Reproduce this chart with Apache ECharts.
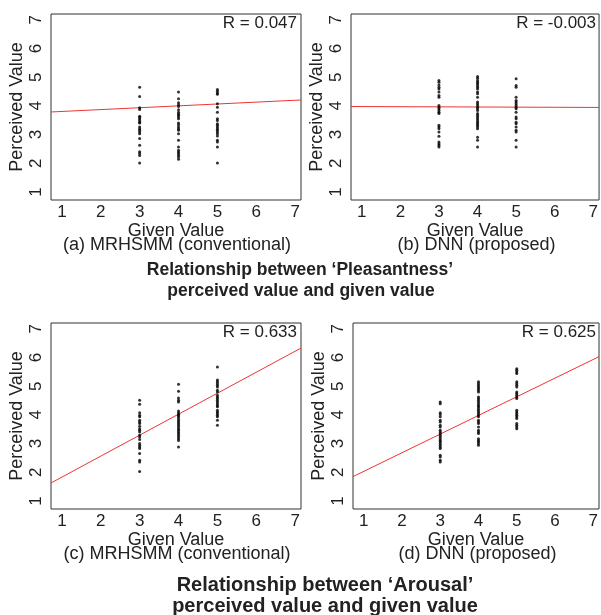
<!DOCTYPE html>
<html>
<head>
<meta charset="utf-8">
<script src="https://cdn.jsdelivr.net/npm/echarts@6/dist/echarts.min.js"></script>
<style>
  html, body { margin: 0; padding: 0; background: #fff; }
  #main { width: 601px; height: 615px; }
</style>
</head>
<body>
<div id="main"></div>
<script>
// perceived values, one list per given value
// (a) Pleasantness, MRHSMM
var aGiven3 = [4.65, 4.33, 3.93, 3.87, 3.64, 3.6, 3.54, 3.49, 3.43, 3.4, 3.26, 3.2, 3.15, 3.09, 3.03, 2.86, 2.63, 2.4, 2.34, 2.27, 2.01];
var aGiven4 = [4.48, 4.25, 4.11, 4.04, 3.98, 3.86, 3.78, 3.72, 3.67, 3.61, 3.55, 3.4, 3.34, 3.26, 3.2, 3.15, 3.03, 2.8, 2.57, 2.45, 2.39, 2.34, 2.28, 2.22, 2.14];
var aGiven5 = [4.57, 4.51, 4.45, 4.4, 4.07, 3.95, 3.78, 3.55, 3.49, 3.38, 3.32, 3.26, 3.2, 3.15, 3.09, 3.03, 2.95, 2.8, 2.74, 2.57, 2.01];
// (b) Pleasantness, DNN
var bGiven3 = [4.88, 4.82, 4.73, 4.65, 4.59, 4.48, 4.36, 4.3, 4.01, 3.95, 3.9, 3.84, 3.78, 3.73, 3.32, 3.26, 3.2, 3.09, 2.94, 2.74, 2.68, 2.63, 2.57];
var bGiven4 = [5.02, 4.96, 4.88, 4.82, 4.77, 4.71, 4.65, 4.59, 4.48, 4.42, 4.3, 4.13, 4.07, 4.01, 3.95, 3.9, 3.84, 3.73, 3.67, 3.61, 3.55, 3.49, 3.43, 3.38, 3.32, 3.26, 3.2, 2.91, 2.8, 2.57];
var bGiven5 = [4.94, 4.71, 4.65, 4.3, 4.19, 4.13, 4.07, 4.01, 3.95, 3.9, 3.78, 3.61, 3.55, 3.43, 3.38, 3.26, 3.15, 3.09, 2.8, 2.57];
// (c) Arousal, MRHSMM
var cGiven3 = [4.51, 4.37, 4.07, 3.99, 3.93, 3.81, 3.75, 3.7, 3.6, 3.52, 3.46, 3.4, 3.29, 3.23, 3.14, 3.0, 2.94, 2.88, 2.83, 2.65, 2.42, 2.36, 2.03];
var cGiven4 = [5.07, 4.82, 4.59, 4.51, 4.45, 4.13, 4.07, 4.02, 3.98, 3.93, 3.87, 3.81, 3.75, 3.7, 3.64, 3.58, 3.52, 3.46, 3.4, 3.35, 3.29, 3.23, 3.17, 3.11, 2.88];
var cGiven5 = [5.67, 5.21, 5.15, 5.09, 5.03, 4.97, 4.86, 4.8, 4.68, 4.62, 4.57, 4.51, 4.45, 4.39, 4.33, 4.28, 4.16, 4.1, 4.05, 3.99, 3.93, 3.81, 3.64];
// (d) Arousal, DNN
var dGiven3 = [4.45, 4.39, 4.07, 4.01, 3.93, 3.81, 3.75, 3.64, 3.58, 3.46, 3.4, 3.35, 3.29, 3.23, 3.17, 3.11, 3.06, 3.0, 2.94, 2.88, 2.83, 2.59, 2.53, 2.42, 2.36];
var dGiven4 = [5.15, 5.09, 5.03, 4.97, 4.92, 4.86, 4.8, 4.62, 4.57, 4.51, 4.45, 4.39, 4.33, 4.28, 4.22, 4.16, 4.1, 4.05, 3.99, 3.93, 3.81, 3.75, 3.7, 3.58, 3.46, 3.4, 3.35, 3.17, 3.11, 3.06, 3.0, 2.94];
var dGiven5 = [5.61, 5.55, 5.49, 5.44, 5.15, 5.09, 5.03, 4.97, 4.8, 4.74, 4.68, 4.62, 4.57, 4.16, 4.1, 4.05, 3.99, 3.93, 3.87, 3.7, 3.64, 3.58, 3.52];

// fitted regression line of each panel: intercept and slope
var fitIntercept = [3.74, 3.98, 1.10, 1.38];
var fitSlope = [0.065, -0.005, 0.731, 0.65];
var rValues = ['R = 0.047', 'R = -0.003', 'R = 0.633', 'R = 0.625'];
var captions = ['(a) MRHSMM (conventional)', '(b) DNN (proposed)', '(c) MRHSMM (conventional)', '(d) DNN (proposed)'];
var axisTicks = [1, 2, 3, 4, 5, 6, 7];

var columns = [
  [aGiven3, aGiven4, aGiven5],
  [bGiven3, bGiven4, bGiven5],
  [cGiven3, cGiven4, cGiven5],
  [dGiven3, dGiven4, dGiven5]
];
var givenX = [3, 4, 5];

var xMin = 0.72, xMax = 7.15, yMin = 0.72, yMax = 7.2;
var boxes = [
  {left: 51, top: 14, width: 250},
  {left: 351, top: 14, width: 249},
  {left: 51, top: 323, width: 250},
  {left: 353, top: 323, width: 247}
];
var boxH = 186;
var txt = '#222';
var fam = '"Liberation Sans", Arial, sans-serif';

var myChart = echarts.init(document.getElementById('main'));

var grids = [], xAxes = [], yAxes = [], series = [], graphics = [];
boxes.forEach(function (b, i) {
  grids.push({left: b.left, top: b.top, width: b.width, height: boxH,
    show: true, borderColor: '#333', borderWidth: 1, backgroundColor: 'transparent'});
  xAxes.push({
    type: 'value', gridIndex: i, min: xMin, max: xMax,
    name: 'Given Value', nameLocation: 'middle', nameGap: 16,
    nameTextStyle: {fontSize: 18, color: txt, fontFamily: fam},
    axisLine: {show: false}, axisTick: {show: false}, splitLine: {show: false},
    axisLabel: {
      color: txt, fontSize: 17, fontFamily: fam, margin: 4,
      customValues: axisTicks
    }
  });
  yAxes.push({
    type: 'value', gridIndex: i, min: yMin, max: yMax,
    name: 'Perceived Value', nameLocation: 'middle', nameGap: 25,
    nameTextStyle: {fontSize: 18, color: txt, fontFamily: fam},
    axisLine: {show: false}, axisTick: {show: false}, splitLine: {show: false},
    axisLabel: {
      color: txt, fontSize: 17, fontFamily: fam, margin: 6, rotate: 90,
      customValues: axisTicks
    }
  });

  var pts = [];
  columns[i].forEach(function (col, k) {
    col.forEach(function (v) { pts.push([givenX[k], v]); });
  });
  series.push({
    type: 'scatter', xAxisIndex: i, yAxisIndex: i, data: pts,
    symbolSize: 3, itemStyle: {color: '#000'}, z: 3
  });
  series.push({
    type: 'line', xAxisIndex: i, yAxisIndex: i, showSymbol: false, silent: true,
    data: [[xMin, fitIntercept[i] + fitSlope[i] * xMin], [xMax, fitIntercept[i] + fitSlope[i] * xMax]],
    lineStyle: {color: '#ee3333', width: 1}, z: 2
  });

  graphics.push({
    type: 'text', x: b.left + b.width - 4, y: b.top + 9,
    style: {text: rValues[i], font: '17px ' + fam, fill: txt, textAlign: 'right', textVerticalAlign: 'middle'}
  });
  graphics.push({
    type: 'text', x: b.left + b.width / 2 + 1, y: b.top + boxH + 45,
    style: {text: captions[i], font: '18px ' + fam, fill: txt, textAlign: 'center', textVerticalAlign: 'middle'}
  });
});

var headlines = [
  {x: 300, y: 270, t: 'Relationship between \u2018Pleasantness\u2019', size: 17.5},
  {x: 301, y: 291, t: 'perceived value and given value', size: 17.5},
  {x: 325, y: 585, t: 'Relationship between \u2018Arousal\u2019', size: 20},
  {x: 325, y: 606, t: 'perceived value and given value', size: 20}
];
headlines.forEach(function (h) {
  graphics.push({
    type: 'text', x: h.x, y: h.y,
    style: {text: h.t, font: 'bold ' + h.size + 'px ' + fam, fill: txt, textAlign: 'center', textVerticalAlign: 'middle'}
  });
});

var option = {
  animation: false,
  grid: grids,
  xAxis: xAxes,
  yAxis: yAxes,
  series: series,
  graphic: graphics
};

myChart.setOption(option);
window.onresize = function () {
  myChart.resize();
};
</script>
</body>
</html>
